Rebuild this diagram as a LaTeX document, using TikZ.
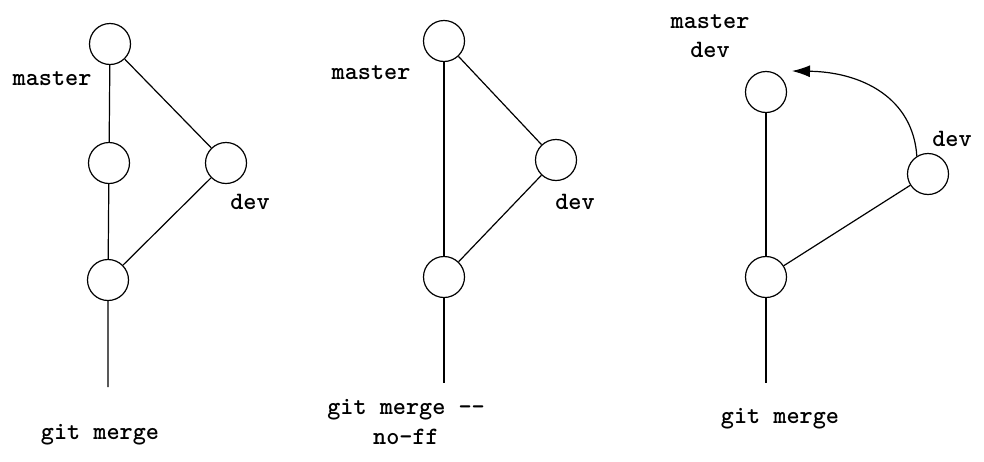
\documentclass[tikz,border=0pt]{standalone}
\usepackage{tikz}
\usetikzlibrary{arrows, arrows.meta, positioning, calc}
\tikzset{
   mycommit/.style={draw, circle, minimum size=41pt, inner sep=0pt},
   mytext/.style={draw=none, anchor=base, inner sep=0pt, font=\ttfamily\bfseries\fontsize{25}{30}\selectfont},
   myedge/.style={draw, line width=1.2pt}
}

\begin{document}
\begin{tikzpicture}[x=1pt, y=-1pt, line width=1.2pt]
      \useasboundingbox (0,0) rectangle (984,461);
      % fast forward
      \node[mycommit] (a1) at (110,44) {};
      \node[mycommit] (a2) at (109,163) {};
      \node[mycommit] (a3) at (226,163) {};
      \node[mycommit] (a4) at (108,280) {};
      \coordinate (ea) at (108,387);
      \draw[myedge] (a1) -- (a2) -- (a4) -- (ea);
      \draw[myedge] (a1) -- (a3) -- (a4);
      \node[mytext] (ma) at (52,85) {master};
      \node[mytext] (da) at (250,209) {dev};
      \node[mytext] (ga) at (100,439) {git merge};
      % no fast forward
      \node[mycommit] (b1) at (444,41) {};
      \node[mycommit] (b3) at (556,160) {};
      \node[mycommit] (b4) at (444,277) {};
      \coordinate (eb) at (444,383);
      \draw[myedge] (b1) -- (b4) -- (eb);
      \draw[myedge] (b1) -- (b3) -- (b4);
      \node[mytext] (mb) at (371,79) {master};
      \node[mytext] (db) at (575,209) {dev};
      \node[mytext] (gb) at (406,414) {git merge -{}-};
      \node[mytext] (gb2) at (406,444) {no-ff};
      % result
      \node[mycommit] (c1) at (766,92) {};
      \node[mycommit] (c3) at (928,174) {};
      \node[mycommit] (c4) at (766,277) {};
      \coordinate (ec) at (766,383);
      \coordinate (tip) at (792,71);
      \draw[myedge] (c1) -- (c4) -- (ec);
      \draw[myedge] (c3) -- (c4);
      \draw[myedge, -{Latex[length=18pt, width=12pt]}] (c3.122) .. controls (913,98) and (862,72) .. (tip);
      \node[mytext] (mc) at (710,28) {master};
      \node[mytext] (dc) at (710,57) {dev};
      \node[mytext] (dc2) at (952,146) {dev};
      \node[mytext] (gc) at (780,423) {git merge};
\end{tikzpicture}
\end{document}
